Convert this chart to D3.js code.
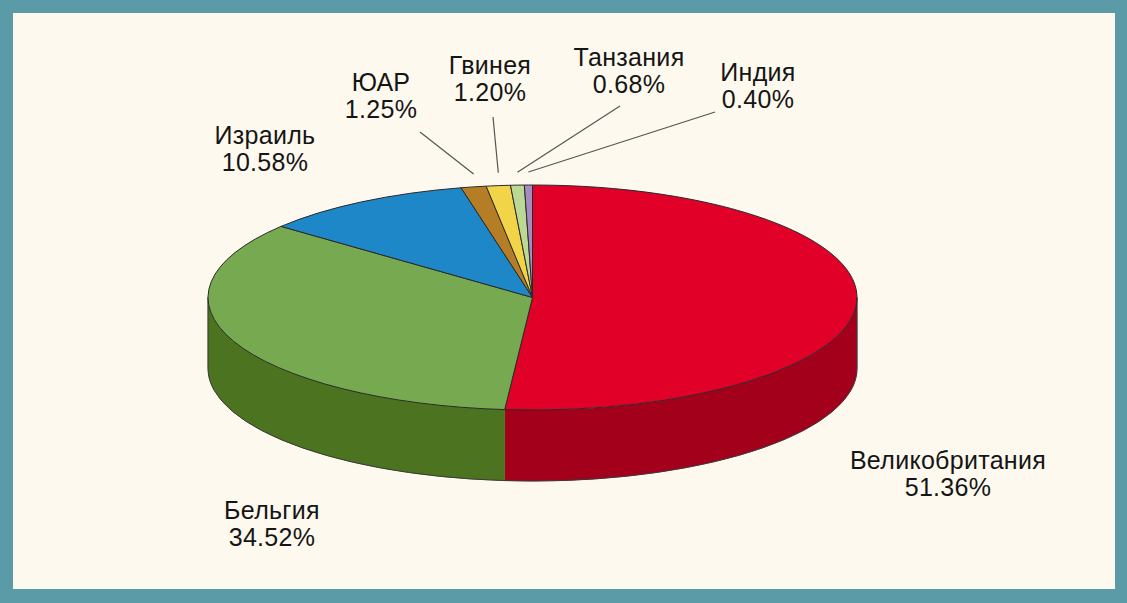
<!DOCTYPE html>
<html>
<head>
<meta charset="utf-8">
<script src="https://cdn.jsdelivr.net/npm/d3@7"></script>
<style>
  html, body { margin: 0; padding: 0; background: #5b9aa7; }
  svg { display: block; }
  text { font-family: "Liberation Sans", Arial, sans-serif; }
</style>
</head>
<body>
<svg></svg>
<script>
const w = 1127
const h = 603

// data
const countries = ['Великобритания', 'Бельгия', 'Израиль', 'ЮАР', 'Гвинея', 'Танзания', 'Индия']
const shares = [51.36, 34.52, 10.58, 1.25, 1.20, 0.68, 0.40]
const topColors = ['#e00028', '#77aa50', '#1e87c8', '#b57d25', '#f2d448', '#bcd994', '#a58cc0']
const sideColors = ['#a3001b', '#4b7320', '#15628f', '#82591a', '#b09a30', '#8aa06a', '#76638a']

// layout: label anchor (centre x, first baseline y), and where leader lines start
const labelAt = {
    'Великобритания': [948, 469],
    'Бельгия': [272, 519],
    'Израиль': [265, 144],
    'ЮАР': [381, 91],
    'Гвинея': [490, 74],
    'Танзания': [629, 66],
    'Индия': [758, 81]
}
const leaderFrom = {
    'ЮАР': [420, 132],
    'Гвинея': [493, 117],
    'Танзания': [620, 106],
    'Индия': [715, 112]
}

// ellipse of the top face
const cx = 532.5
const cy = 297.5
const rx = 324.5
const ry = 112.5
const depth = 71

const svg = d3.select('svg').attr('width', w).attr('height', h)

svg.append('rect')
    .attr('x', 0).attr('y', 0).attr('width', w).attr('height', h)
    .attr('fill', '#5b9aa7')
svg.append('rect')
    .attr('x', 13).attr('y', 13).attr('width', 1102).attr('height', 576)
    .attr('fill', '#fef9ee')

const data = countries.map((c, i) => ({ name: c, value: shares[i], top: topColors[i], side: sideColors[i] }))

const pie = d3.pie().sort(null).value(d => d.value)
const arcs = pie(data)

const pt = (a, yOff = 0) => [cx + rx * Math.sin(a), cy - ry * Math.cos(a) + yOff]

//side walls: only the front half (PI/2 .. 3PI/2) is visible
const sides = svg.append('g')
arcs.forEach(a => {
    const a0 = Math.max(a.startAngle, Math.PI / 2)
    const a1 = Math.min(a.endAngle, Math.PI * 3 / 2)
    if (a1 <= a0) return
    const p0 = pt(a0), p1 = pt(a1)
    const q0 = pt(a0, depth), q1 = pt(a1, depth)
    const large = (a1 - a0) > Math.PI ? 1 : 0
    const d = `M${p0[0]},${p0[1]} A${rx},${ry} 0 ${large} 1 ${p1[0]},${p1[1]}` +
        ` L${q1[0]},${q1[1]} A${rx},${ry} 0 ${large} 0 ${q0[0]},${q0[1]} Z`
    sides.append('path')
        .attr('d', d)
        .attr('fill', a.data.side)
        .attr('stroke', a.data.side)
        .attr('stroke-width', 0.6)
})
// outline round the outer wall
{
    const l0 = pt(Math.PI / 2), l1 = pt(Math.PI * 3 / 2)
    const b0 = pt(Math.PI / 2, depth), b1 = pt(Math.PI * 3 / 2, depth)
    sides.append('path')
        .attr('d', `M${l0[0]},${l0[1]} L${b0[0]},${b0[1]} A${rx},${ry} 0 0 1 ${b1[0]},${b1[1]} L${l1[0]},${l1[1]}`)
        .attr('fill', 'none')
        .attr('stroke', '#3a3a3a')
        .attr('stroke-width', 1)
}

// top face: circular arcs squashed into the ellipse
const arc = d3.arc().innerRadius(0).outerRadius(rx)
svg.append('g')
    .attr('transform', `translate(${cx},${cy}) scale(1,${ry / rx})`)
    .selectAll('path')
    .data(arcs)
    .join('path')
    .attr('d', arc)
    .attr('fill', d => d.data.top)
    .attr('stroke', '#2a2a2a')
    .attr('stroke-width', 1)
    .attr('stroke-linejoin', 'round')
    .attr('vector-effect', 'non-scaling-stroke')

// leader lines
const leaders = svg.append('g')
arcs.forEach(a => {
    const from = leaderFrom[a.data.name]
    if (!from) return
    const m = (a.startAngle + a.endAngle) / 2
    const to = [cx + rx * Math.sin(m), cy - (ry + 13) * Math.cos(m)]
    leaders.append('line')
        .attr('x1', from[0]).attr('y1', from[1])
        .attr('x2', to[0]).attr('y2', to[1])
        .attr('stroke', '#555')
        .attr('stroke-width', 1.2)
})

// labels
const fmt = d3.format('.2f')
const labels = svg.append('g')
    .selectAll('text')
    .data(arcs)
    .join('text')
    .attr('text-anchor', 'middle')
    .attr('font-size', 25)
    .attr('letter-spacing', 0.3)
    .attr('fill', '#151515')
labels.append('tspan')
    .attr('x', d => labelAt[d.data.name][0])
    .attr('y', d => labelAt[d.data.name][1])
    .text(d => d.data.name)
labels.append('tspan')
    .attr('x', d => labelAt[d.data.name][0])
    .attr('y', d => labelAt[d.data.name][1] + 27)
    .text(d => fmt(d.data.value) + '%')
</script>
</body>
</html>
